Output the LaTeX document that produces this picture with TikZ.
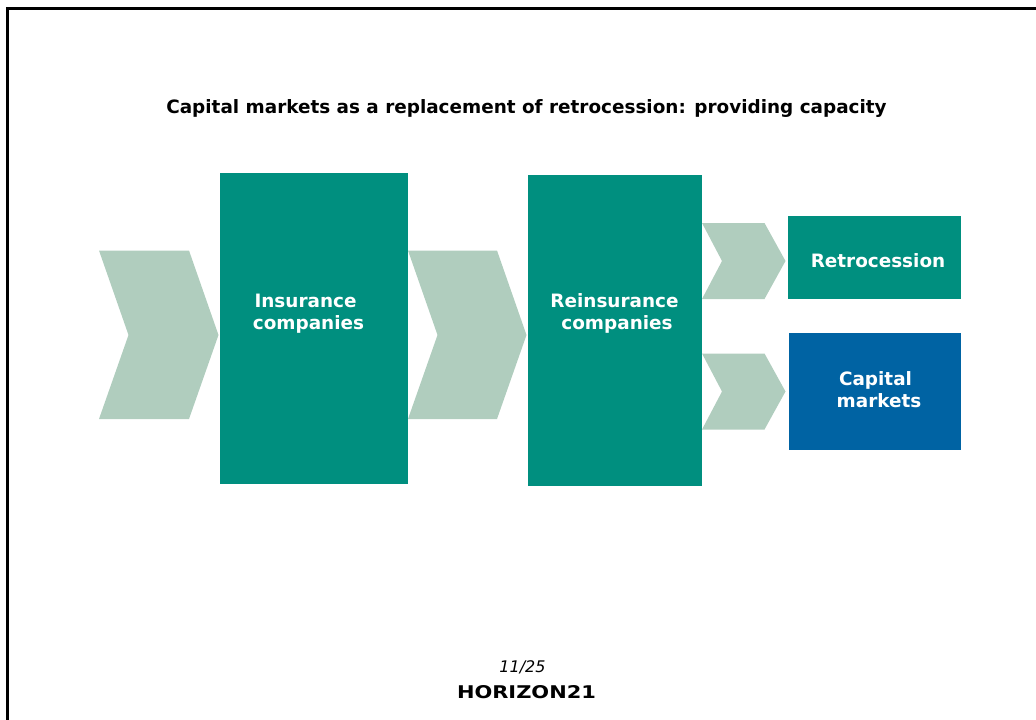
\documentclass[tikz,border=0pt]{standalone}
\usepackage{fontspec}
\setmainfont{DejaVu Sans}
\definecolor{teal1}{HTML}{008F7F}
\definecolor{sage}{HTML}{B0CDBE}
\definecolor{blue1}{HTML}{0063A3}
\tikzset{
  x=1pt,y=-1pt,
  chev/.style={fill=sage,draw=none},
  lab/.style={text=white,font=\fontsize{18.4}{22}\selectfont\bfseries,align=center,inner sep=0pt},
}
\begin{document}
\begin{tikzpicture}
\useasboundingbox (0,0) rectangle (1036,720);
\draw[line width=2.6pt,line cap=butt] (7.3,720) -- (7.3,8.3) -- (1036,8.3);
\node[font=\fontsize{18.4}{22}\selectfont\bfseries,inner sep=0pt] (title) at (526.5,108) {Capital markets as a replacement of retrocession: providing capacity};
% chevrons
\fill[chev] (99,250.5) -- (189,250.5) -- (218.5,335) -- (189,419) -- (99,419) -- (128.5,335) -- cycle;
\fill[chev] (408,250.5) -- (497,250.5) -- (526.5,335) -- (497,419) -- (408,419) -- (437.5,335) -- cycle;
\fill[chev] (702,223) -- (764.5,223) -- (785.5,261) -- (764.5,299) -- (702,299) -- (722,261) -- cycle;
\fill[chev] (702,353.5) -- (764.5,353.5) -- (785.5,391.5) -- (764.5,429.5) -- (702,429.5) -- (722,391.5) -- cycle;
% blocks
\fill[teal1] (220,173) rectangle (408,484);
\fill[teal1] (528,175) rectangle (702,486);
\fill[teal1] (788,216) rectangle (961,299);
\fill[blue1] (789,333) rectangle (961,450);
\node[lab] (ins) at (308.5,313.4) {Insurance\hspace*{6pt}\\companies};
\node[lab] (rei) at (617,313.4) {Reinsurance\hspace*{5pt}\\companies};
\node[lab] (ret) at (878,260.2) {Retrocession};
\node[lab] (cap) at (879,390) {Capital\hspace*{7pt}\\markets};
\node[font=\fontsize{16}{18}\selectfont\itshape,inner sep=0pt] (pg) at (522.5,667.5) {11/25};
\node[inner sep=0pt] (logo) at (526.5,692) {\resizebox{139pt}{13pt}{\bfseries HORIZON21}};
\end{tikzpicture}
\end{document}
